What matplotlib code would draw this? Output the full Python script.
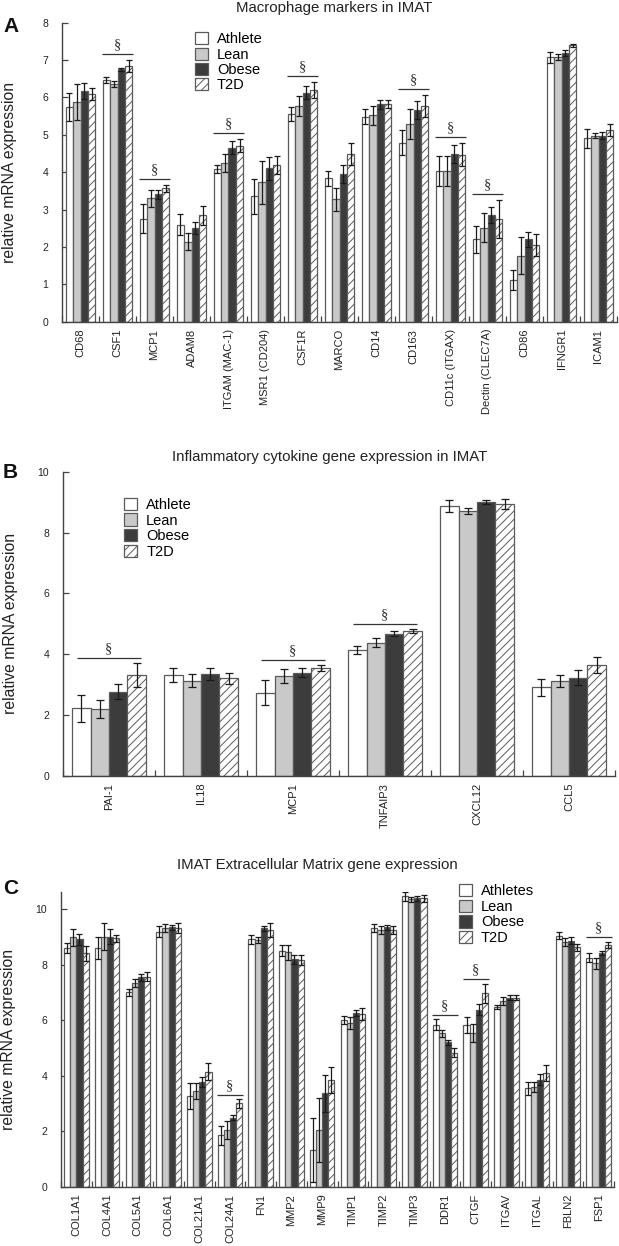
import numpy as np
import matplotlib
matplotlib.use('Agg')
import matplotlib.pyplot as plt
from matplotlib.patches import Patch

plt.rcParams['font.family'] = ['Liberation Sans', 'DejaVu Sans']
plt.rcParams['hatch.color'] = '#8c8c8c'
plt.rcParams['hatch.linewidth'] = 0.7

# ---------------- Panel A data ----------------
genes_A = ['CD68', 'CSF1', 'MCP1', 'ADAM8', 'ITGAM (MAC-1)', 'MSR1 (CD204)', 'CSF1R',
           'MARCO', 'CD14', 'CD163', 'CD11c (ITGAX)', 'Dectin (CLEC7A)', 'CD86',
           'IFNGR1', 'ICAM1']
labels_A = ['Athlete', 'Lean', 'Obese', 'T2D']
athlete_A = [5.74, 6.47, 2.76, 2.60, 4.08, 3.35, 5.56, 3.84, 5.49, 4.79, 4.04, 2.20, 1.12, 7.07, 4.91]
lean_A    = [5.87, 6.35, 3.30, 2.14, 4.25, 3.73, 5.77, 3.27, 5.52, 5.30, 4.04, 2.52, 1.77, 7.07, 4.98]
obese_A   = [6.18, 6.75, 3.41, 2.51, 4.66, 4.10, 6.13, 3.95, 5.82, 5.66, 4.49, 2.85, 2.21, 7.18, 4.98]
t2d_A     = [6.09, 6.84, 3.57, 2.85, 4.71, 4.19, 6.20, 4.49, 5.83, 5.77, 4.47, 2.75, 2.05, 7.39, 5.13]
athlete_A_err = [0.38, 0.08, 0.39, 0.27, 0.10, 0.47, 0.18, 0.20, 0.20, 0.33, 0.40, 0.35, 0.27, 0.15, 0.25]
lean_A_err    = [0.48, 0.08, 0.22, 0.22, 0.25, 0.57, 0.27, 0.30, 0.25, 0.40, 0.40, 0.40, 0.50, 0.08, 0.06]
obese_A_err   = [0.22, 0.05, 0.12, 0.16, 0.17, 0.30, 0.17, 0.23, 0.12, 0.24, 0.25, 0.22, 0.20, 0.08, 0.10]
t2d_A_err     = [0.17, 0.15, 0.10, 0.25, 0.18, 0.25, 0.22, 0.30, 0.10, 0.30, 0.30, 0.51, 0.30, 0.04, 0.17]
sig_A = ['CSF1', 'MCP1', 'ITGAM (MAC-1)', 'CSF1R', 'CD163', 'CD11c (ITGAX)', 'Dectin (CLEC7A)']

# ---------------- Panel B data ----------------
genes_B = ['PAI-1', 'IL18', 'MCP1', 'TNFAIP3', 'CXCL12', 'CCL5']
labels_B = ['Athlete', 'Lean', 'Obese', 'T2D']
athlete_B = [2.22, 3.32, 2.74, 4.14, 8.87, 2.91]
lean_B    = [2.19, 3.13, 3.28, 4.38, 8.72, 3.13]
obese_B   = [2.77, 3.34, 3.39, 4.68, 9.01, 3.23]
t2d_B     = [3.32, 3.21, 3.56, 4.76, 8.94, 3.64]
athlete_B_err = [0.44, 0.24, 0.40, 0.14, 0.20, 0.27]
lean_B_err    = [0.30, 0.22, 0.22, 0.14, 0.10, 0.20]
obese_B_err   = [0.25, 0.20, 0.15, 0.08, 0.07, 0.25]
t2d_B_err     = [0.40, 0.18, 0.10, 0.07, 0.17, 0.27]
sig_B = ['PAI-1', 'MCP1', 'TNFAIP3']

# ---------------- Panel C data ----------------
genes_C = ['COL1A1', 'COL4A1', 'COL5A1', 'COL6A1', 'COL21A1', 'COL24A1', 'FN1', 'MMP2',
           'MMP9', 'TIMP1', 'TIMP2', 'TIMP3', 'DDR1', 'CTGF', 'ITGAV', 'ITGAL', 'FBLN2', 'FSP1']
labels_C = ['Athletes', 'Lean', 'Obese', 'T2D']
athlete_C = [8.59, 8.59, 7.00, 9.19, 3.27, 1.85, 8.91, 8.50, 1.31, 6.01, 9.33, 10.47, 5.83, 5.83, 6.49, 3.55, 9.05, 8.25]
lean_C    = [8.98, 9.01, 7.35, 9.33, 3.45, 2.04, 8.89, 8.44, 2.04, 5.89, 9.25, 10.35, 5.53, 5.55, 6.69, 3.61, 8.83, 8.05]
obese_C   = [8.91, 9.01, 7.54, 9.35, 3.79, 2.48, 9.31, 8.19, 3.37, 6.25, 9.35, 10.39, 5.20, 6.37, 6.81, 3.85, 8.86, 8.43]
t2d_C     = [8.41, 8.95, 7.57, 9.32, 4.15, 3.00, 9.25, 8.17, 3.85, 6.21, 9.25, 10.39, 4.83, 6.97, 6.81, 4.10, 8.62, 8.71]
athlete_C_err = [0.18, 0.40, 0.14, 0.19, 0.47, 0.35, 0.16, 0.20, 1.15, 0.14, 0.15, 0.16, 0.20, 0.30, 0.07, 0.24, 0.13, 0.17]
lean_C_err    = [0.30, 0.48, 0.15, 0.15, 0.30, 0.33, 0.12, 0.27, 1.15, 0.22, 0.15, 0.10, 0.13, 0.33, 0.15, 0.18, 0.14, 0.20]
obese_C_err   = [0.20, 0.28, 0.12, 0.09, 0.18, 0.09, 0.08, 0.15, 0.67, 0.10, 0.09, 0.08, 0.09, 0.20, 0.09, 0.20, 0.12, 0.07]
t2d_C_err     = [0.27, 0.12, 0.15, 0.18, 0.32, 0.15, 0.27, 0.18, 0.47, 0.22, 0.13, 0.13, 0.17, 0.35, 0.09, 0.30, 0.14, 0.12]
sig_C = ['COL24A1', 'DDR1', 'CTGF', 'FSP1']

# ---------------- styling ----------------
EDGE = '#5a5a5a'
FILLS = ['white', '#c9c9c9', '#3c3c3c', 'white']
HATCHES = [None, None, None, '////']
TXT = '#222222'
BW = 0.2

fig = plt.figure(figsize=(6.19, 12.46), dpi=100)


def panel(rect, genes, series, errs, labels, sig, ylim, yticks, title, title_xy,
          leg_xy, leg_space, letter, letter_xy, capsize, sig_half):
    ax = fig.add_axes(rect)
    n = len(genes)
    x = np.arange(n)
    for i, (vals, err) in enumerate(zip(series, errs)):
        pos = x + (i - 1.5) * BW
        ax.bar(pos, vals, BW, color=FILLS[i], edgecolor=EDGE, linewidth=0.9,
               hatch=HATCHES[i], label=labels[i], zorder=2)
        ax.errorbar(pos, vals, yerr=err, fmt='none', ecolor='#1a1a1a',
                    elinewidth=0.9, capsize=capsize, capthick=0.9, zorder=3)
    tops = np.max(np.array(series) + np.array(errs), axis=0)
    for g in sig:
        j = genes.index(g)
        yl = tops[j] + 0.16
        ax.plot([j - sig_half, j + sig_half], [yl, yl], color='#333333', lw=0.9,
                zorder=3, solid_capstyle='butt')
        ax.annotate('\u00a7', (j, yl), xytext=(0, 2), textcoords='offset points',
                    ha='center', va='bottom', fontsize=10.5, color='#333333',
                    family=['Liberation Serif', 'DejaVu Serif'])
    ax.set_xlim(-0.5, n - 0.5)
    ax.set_ylim(*ylim)
    ax.set_yticks(yticks)
    ax.set_yticklabels([str(t) for t in yticks])
    ax.set_xticks(x)
    ax.set_xticklabels(genes, rotation=90, fontsize=8, color=TXT)
    ax.set_xticks(np.arange(n + 1) - 0.5, minor=True)
    ax.tick_params(axis='x', which='major', length=0, pad=5)
    ax.tick_params(axis='x', which='minor', direction='in', length=4, width=0.9,
                   color='#444444')
    ax.tick_params(axis='y', direction='in', length=4.5, width=0.9, pad=10,
                   labelsize=7.5, labelcolor=TXT, color='#444444')
    for s in ['top', 'right']:
        ax.spines[s].set_visible(False)
    for s in ['left', 'bottom']:
        ax.spines[s].set_color('#444444')
        ax.spines[s].set_linewidth(1.0)
    ax.set_ylabel('relative mRNA expression', fontsize=11.3, color=TXT)
    ax.yaxis.set_label_coords(-0.081, 0.5)
    ax.text(title_xy[0], title_xy[1], title, transform=ax.transAxes, ha='center',
            va='center', fontsize=10.8, color=TXT)
    handles = [Patch(facecolor=FILLS[i], edgecolor=EDGE, hatch=HATCHES[i],
                     linewidth=0.9) for i in range(4)]
    ax.legend(handles, labels, loc='upper left', bbox_to_anchor=leg_xy,
              frameon=False, fontsize=10.5, handlelength=0.9, handleheight=0.9,
              handletextpad=0.6, labelspacing=leg_space, borderpad=0, borderaxespad=0)
    fig.text(letter_xy[0], letter_xy[1], letter, fontsize=15, fontweight='bold',
             ha='left', va='center', color='#111111')
    return ax


W, H = 619.0, 1246.0

panel([62 / W, 1 - 321.7 / H, 555 / W, 299 / H], genes_A,
      [athlete_A, lean_A, obese_A, t2d_A],
      [athlete_A_err, lean_A_err, obese_A_err, t2d_A_err], labels_A, sig_A,
      (0, 8), list(range(0, 9)), 'Macrophage markers in IMAT', (0.49, 1.049),
      (0.240, 0.968), 0.08, 'A', (3 / W, 1 - 26 / H), 2.2, 0.42)

panel([63 / W, 1 - 775.8 / H, 552 / W, 304 / H], genes_B,
      [athlete_B, lean_B, obese_B, t2d_B],
      [athlete_B_err, lean_B_err, obese_B_err, t2d_B_err], labels_B, sig_B,
      (0, 10), [0, 2, 4, 6, 8, 10], 'Inflammatory cytokine gene expression in IMAT',
      (0.484, 1.049), (0.111, 0.915), 0.12, 'B', (3 / W, 1 - 472 / H), 3, 0.35)

panel([61 / W, 1 - 1186.7 / H, 553 / W, 295 / H], genes_C,
      [athlete_C, lean_C, obese_C, t2d_C],
      [athlete_C_err, lean_C_err, obese_C_err, t2d_C_err], labels_C, sig_C,
      (0, 10.63), [0, 2, 4, 6, 8, 10], 'IMAT Extracellular Matrix gene expression',
      (0.463, 1.09), (0.720, 1.025), 0.1, 'C', (3 / W, 1 - 889 / H), 2, 0.42)

fig.savefig('out.png', dpi=100)
